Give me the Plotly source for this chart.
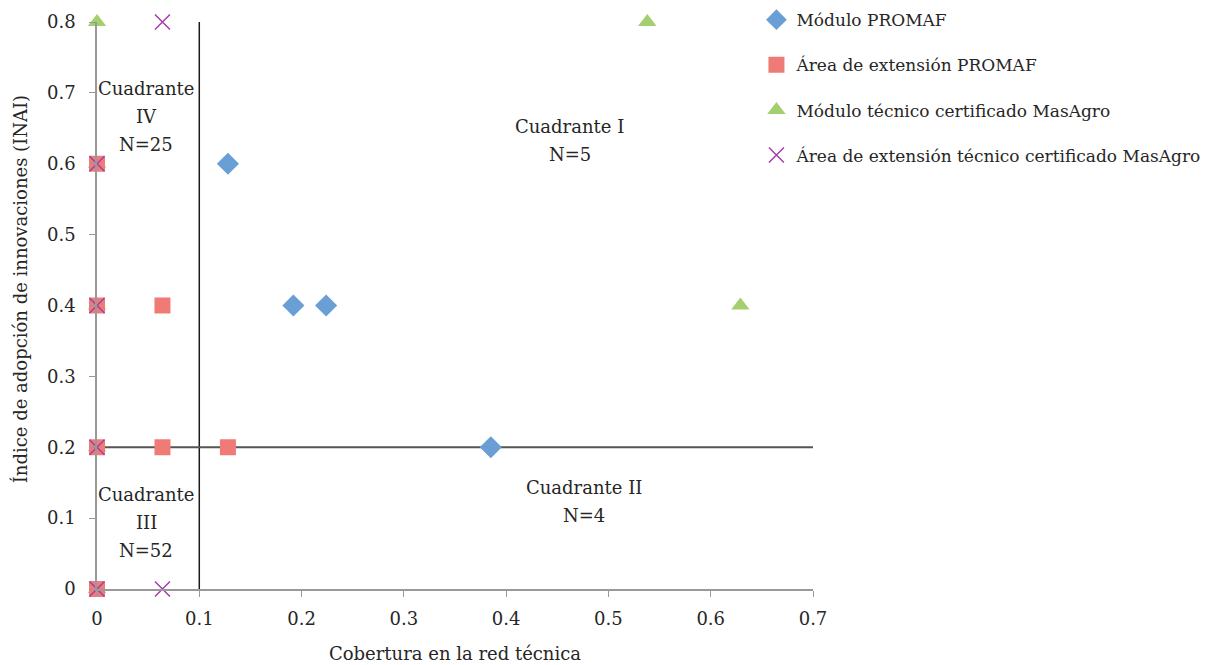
import plotly.graph_objects as go

# Data
promaf_mod_x = [0.128, 0.192, 0.224, 0.385]
promaf_mod_y = [0.6, 0.4, 0.4, 0.2]

promaf_area_x = [0, 0, 0.064, 0, 0.064, 0.128, 0]
promaf_area_y = [0.6, 0.4, 0.4, 0.2, 0.2, 0.2, 0]

masagro_mod_x = [0, 0.538, 0.629, 0, 0, 0, 0]
masagro_mod_y = [0.8, 0.8, 0.4, 0.6, 0.4, 0.2, 0]

masagro_area_x = [0.064, 0, 0, 0, 0, 0.064]
masagro_area_y = [0.8, 0.6, 0.4, 0.2, 0, 0]

x_ticks = [0, 0.1, 0.2, 0.3, 0.4, 0.5, 0.6, 0.7]
y_ticks = [0, 0.1, 0.2, 0.3, 0.4, 0.5, 0.6, 0.7, 0.8]

quadrant_lines = [
    ["Cuadrante", "IV", "N=25"],
    ["Cuadrante I", "N=5"],
    ["Cuadrante II", "N=4"],
    ["Cuadrante", "III", "N=52"],
]
quadrant_x = [0.048, 0.462, 0.476, 0.048]
quadrant_y = [0.667, 0.633, 0.123, 0.094]

x_title = "Cobertura en la red técnica"
y_title = "Índice de adopción de innovaciones (INAI)"

FONT = "DejaVu Serif"
TXT = "#262626"
FS = 18
LINE_GAP = 28

fig = go.Figure()

fig.add_trace(go.Scatter(
    x=masagro_mod_x, y=masagro_mod_y, mode="markers",
    name="Módulo técnico certificado MasAgro", legendrank=3, legendgroup="c",
    marker=dict(symbol="triangle-up", size=16, color="#A3CF6F", line=dict(width=0)),
    cliponaxis=False))
fig.add_trace(go.Scatter(
    x=promaf_area_x, y=promaf_area_y, mode="markers",
    name="Área de extensión PROMAF", legendrank=2, legendgroup="b",
    marker=dict(symbol="square", size=16, color="#F07B76", line=dict(width=0)),
    cliponaxis=False))
fig.add_trace(go.Scatter(
    x=promaf_mod_x, y=promaf_mod_y, mode="markers",
    name="Módulo PROMAF", legendrank=1, legendgroup="a",
    marker=dict(symbol="diamond", size=17, color="#6A9FD6", line=dict(width=0)),
    cliponaxis=False))
fig.add_trace(go.Scatter(
    x=masagro_area_x, y=masagro_area_y, mode="markers",
    name="Área de extensión técnico certificado MasAgro", legendrank=4, legendgroup="d",
    marker=dict(symbol="x-thin", size=15, color="#A040A8", line=dict(width=1.5, color="#A040A8")),
    cliponaxis=False))

# Quadrant divider lines
fig.add_shape(type="line", x0=0.1, x1=0.1, y0=0, y1=0.8, xref="x", yref="y",
              line=dict(color="#1a1a1a", width=1.5), layer="below")
fig.add_shape(type="line", x0=0, x1=0.7, y0=0.2, y1=0.2, xref="x", yref="y",
              line=dict(color="#555555", width=2), layer="below")

for lines, qx, qy in zip(quadrant_lines, quadrant_x, quadrant_y):
    n = len(lines)
    for i, line in enumerate(lines):
        fig.add_annotation(x=qx, y=qy, text=line, showarrow=False, xref="x", yref="y",
                           yshift=((n - 1) / 2 - i) * LINE_GAP,
                           font=dict(family=FONT, size=FS, color=TXT), align="center")

# Y axis title (placed as annotation to sit closer to the page edge)
fig.add_annotation(x=-0.108, y=0.528, xref="paper", yref="paper", text=y_title,
                   showarrow=False, textangle=-90, xanchor="center", yanchor="middle",
                   font=dict(family=FONT, size=FS, color=TXT))

fig.update_layout(
    width=1218, height=657,
    margin=dict(l=89, r=413, t=14, b=76, autoexpand=False),
    paper_bgcolor="white", plot_bgcolor="white",
    font=dict(family=FONT, size=FS, color=TXT),
    showlegend=True,
    legend=dict(x=0.921, y=1.035, xanchor="left", yanchor="top",
                font=dict(family=FONT, size=17, color=TXT),
                tracegroupgap=20, bgcolor="rgba(0,0,0,0)", itemwidth=30),
    xaxis=dict(range=[0, 0.7], tickvals=x_ticks, ticktext=[f"{v:g}" for v in x_ticks],
               automargin=False,
               showgrid=False, zeroline=False, showline=True, linecolor="#999999", linewidth=1.5,
               ticks="outside", ticklen=6, tickcolor="#999999", ticklabelstandoff=7,
               tickfont=dict(family=FONT, size=FS),
               title=dict(text=x_title, font=dict(family=FONT, size=FS), standoff=19)),
    yaxis=dict(range=[0, 0.8], tickvals=y_ticks, ticktext=[f"{v:g}" for v in y_ticks],
               automargin=False,
               showgrid=False, zeroline=False, showline=True, linecolor="#999999", linewidth=1.5,
               ticks="outside", ticklen=6, tickcolor="#999999", ticklabelstandoff=10,
               tickfont=dict(family=FONT, size=FS)),
)

fig.write_html("out.html")
